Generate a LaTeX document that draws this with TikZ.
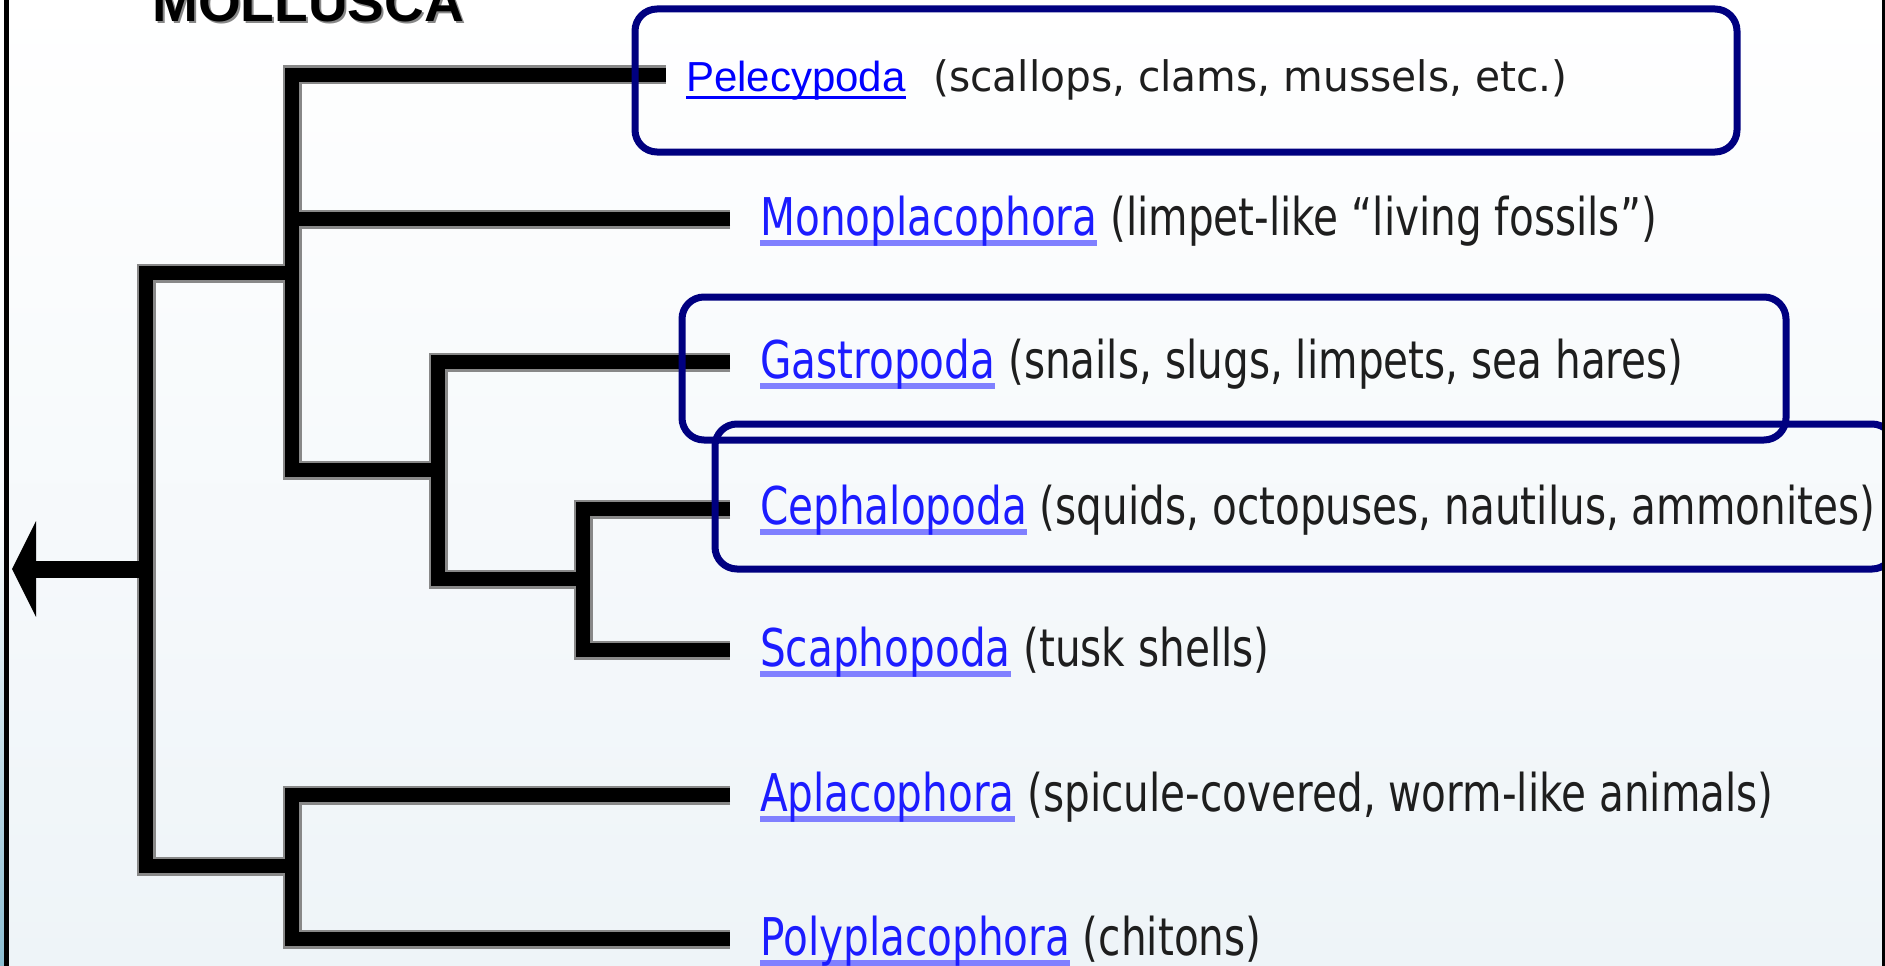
\documentclass[tikz,border=0pt]{standalone}
\usepackage{fontspec}
\usetikzlibrary{arrows.meta}
\newfontfamily\tahf[FakeStretch=0.78]{DejaVu Sans}
\newfontfamily\verdf[FakeStretch=0.97]{DejaVu Sans}
\newfontfamily\arif{Liberation Sans}
\definecolor{boxnavy}{RGB}{0,0,128}
\definecolor{linkblue}{RGB}{28,28,255}
\definecolor{purelink}{RGB}{0,0,255}
\definecolor{ulblue}{RGB}{128,128,255}
\definecolor{desctext}{RGB}{30,30,30}
\definecolor{shadowgray}{RGB}{136,136,136}
\definecolor{bgblue}{RGB}{238,244,248}
\definecolor{stripteal}{RGB}{140,190,210}
\newsavebox\ulbox
\newcommand\tahname[1]{\sbox\ulbox{\color{linkblue}#1}\rlap{\color{ulblue}\rule[-11pt]{\wd\ulbox}{6pt}}\usebox\ulbox}
\newcommand\ariname[1]{\sbox\ulbox{\color{purelink}#1}\rlap{\color{purelink}\rule[-7pt]{\wd\ulbox}{2.6pt}}\usebox\ulbox}
\tikzset{
  treeshade/.style={line width=19pt, line join=miter, line cap=butt, draw=shadowgray},
  treeline/.style={line width=14pt, line join=miter, line cap=butt, draw=black},
  hlbox/.style={draw=boxnavy, line width=7pt, rounded corners=22pt},
  rowtext/.style={anchor=base west, inner sep=0pt, font={\tahf\fontsize{52}{52}\selectfont}},
  desc/.style={text=desctext}
}
\begin{document}
\begin{tikzpicture}[x=1pt,y=-1pt]
\useasboundingbox (0,0) rectangle (1885,966);
\clip (0,0) rectangle (1885,966);
% background
\shade[top color=white, bottom color=bgblue] (0,0) rectangle (1885,966);
\shade[top color=white, bottom color=stripteal] (0,500) rectangle (4,966);

% title (cut off at the top edge, as in the reference)
\node[anchor=base west, inner sep=0pt, text=shadowgray, font={\arif\bfseries\fontsize{55}{55}\selectfont}] (titleshadow) at (154,24) {MOLLUSCA};
\node[anchor=base west, inner sep=0pt, font={\arif\bfseries\fontsize{55}{55}\selectfont}] (title) at (152,22) {MOLLUSCA};

% leaf ends and internal nodes
\coordinate (lPel) at (666,75);
\coordinate (lMono) at (730,219);
\coordinate (lGas) at (730,362);
\coordinate (lCep) at (730,509);
\coordinate (lSca) at (730,650);
\coordinate (lApl) at (730,795);
\coordinate (lPol) at (730,939);
\coordinate (nA) at (292,273);
\coordinate (nGCS) at (438,470);
\coordinate (nCS) at (583,579);
\coordinate (nAP) at (292,866);
\coordinate (nR) at (146,569);
\coordinate (tip) at (12,569);

% tree: grey fringe first, then black lines
\foreach \sty in {treeshade,treeline}{
  \draw[\sty] (lPel) -| (nA |- nGCS) -- (nGCS);
  \draw[\sty] (lMono) -- (lMono -| nA);
  \draw[\sty] (lGas) -| (nGCS |- nCS) -- (nCS);
  \draw[\sty] (lCep) -| (nCS |- lSca) -- (lSca);
  \draw[\sty] (lApl) -| (nAP |- lPol) -- (lPol);
  \draw[\sty] (nA) -| (nR |- nAP) -- (nAP);
}
\draw[line width=17pt, -{Triangle[length=24pt,width=95pt]}] (nR) -- (tip);

% texts
\node[anchor=base west, inner sep=0pt, font={\arif\fontsize{42}{42}\selectfont}] (tPel) at (686,92) {\ariname{Pelecypoda}};
\node[anchor=base west, inner sep=0pt, desc, font={\verdf\fontsize{42}{42}\selectfont}] (dPel) at (933,92) {(scallops, clams, mussels, etc.)};
\node[rowtext] (tMono) at (760,235) {\tahname{Monoplacophora} \textcolor{desctext}{(limpet-like “living fossils”)}};
\node[rowtext] (tGas) at (760,378) {\tahname{Gastropoda} \textcolor{desctext}{(snails, slugs, limpets, sea hares)}};
\node[rowtext] (tCep) at (760,524) {\tahname{Cephalopoda} \textcolor{desctext}{(squids, octopuses, nautilus, ammonites)}};
\node[rowtext] (tSca) at (760,666) {\tahname{Scaphopoda} \textcolor{desctext}{(tusk shells)}};
\node[rowtext] (tApl) at (760,811) {\tahname{Aplacophora} \textcolor{desctext}{(spicule-covered, worm-like animals)}};
\node[rowtext] (tPol) at (760,955) {\tahname{Polyplacophora} \textcolor{desctext}{(chitons)}};

% highlight boxes
\draw[hlbox] (635,9) rectangle (1737,152);
\draw[hlbox] (682,297) rectangle (1786,440);
\draw[hlbox] (715,424) rectangle (1894,569);

% frame lines
\fill[black] (4,0) rectangle (9,966);
\fill[black] (1882,0) rectangle (1885,966);
\end{tikzpicture}
\end{document}
